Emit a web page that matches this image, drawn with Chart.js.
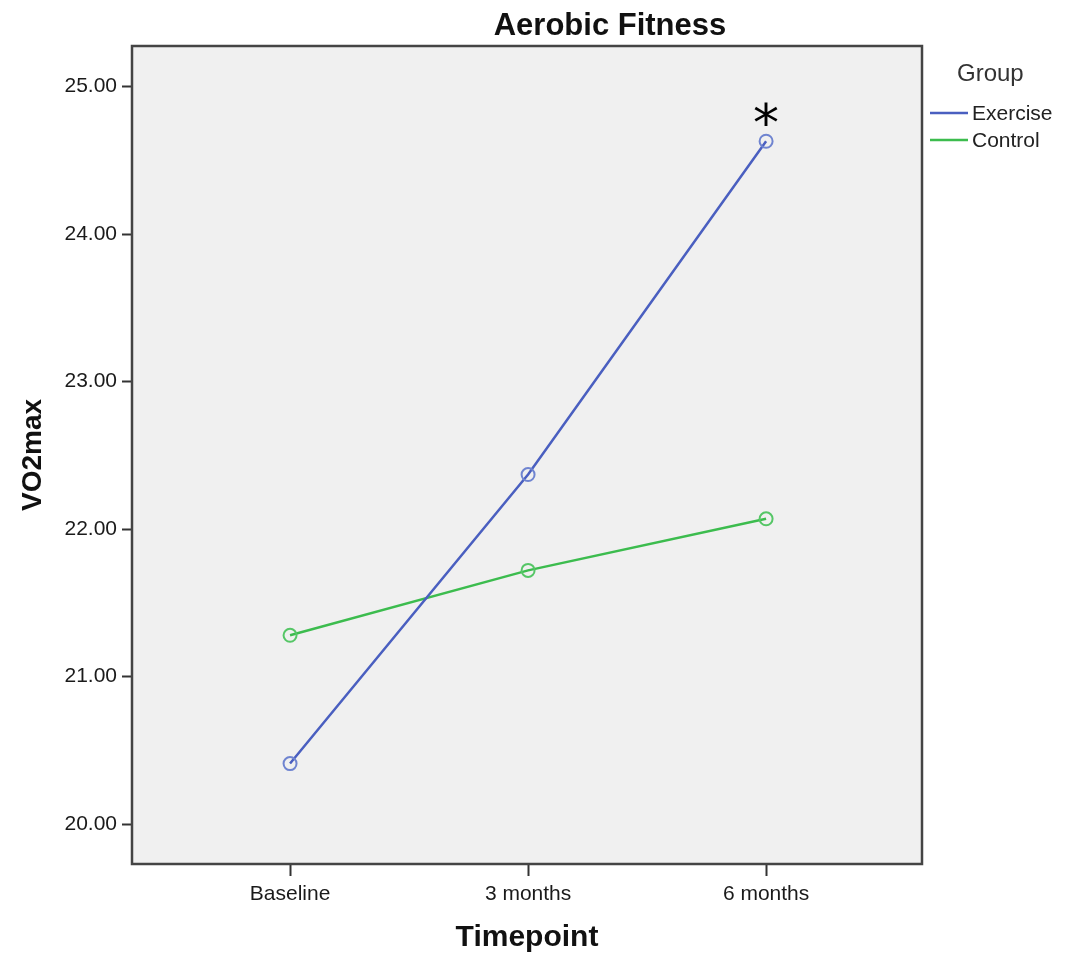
<!DOCTYPE html>
<html>
<head>
<meta charset="utf-8">
<title>Aerobic Fitness</title>
<script src="https://cdn.jsdelivr.net/npm/chart.js@4.4.1/dist/chart.umd.min.js"></script>
<style>
  html, body { margin: 0; padding: 0; background: #ffffff; }
  #wrap { width: 1076px; height: 956px; }
</style>
</head>
<body>
<div id="wrap"><canvas id="chart" width="1076" height="956"></canvas></div>
<script>
// Mean VO2max per timepoint for each group
const timepoints = ['Baseline', '3 months', '6 months'];
const exerciseVO2 = [20.41, 22.37, 24.63];
const controlVO2 = [21.28, 21.72, 22.07];
const yTickValues = [20, 21, 22, 23, 24, 25];
const groupNames = ['Exercise', 'Control'];
const groupColors = ['#4a5fc0', '#3cbc4e'];
const markerColors = ['#6f84d0', '#55c666'];
// Marker flagged as significant: series index and point index
const flagged = { series: 0, point: 2, text: '*' };

const FONT = '"Liberation Sans", Arial, sans-serif';

const toPoints = vals => vals.map((v, i) => ({ x: i, y: v }));

// Plot frame, chart title, legend and significance mark
const decorations = {
  id: 'decorations',
  beforeDatasetsDraw(chart) {
    const { ctx, chartArea: a } = chart;
    ctx.save();
    ctx.fillStyle = '#f0f0f0';
    ctx.fillRect(a.left, a.top, a.right - a.left, a.bottom - a.top);
    ctx.strokeStyle = '#444';
    ctx.lineWidth = 2.5;
    ctx.strokeRect(a.left, a.top, a.right - a.left, a.bottom - a.top);
    ctx.restore();
  },
  afterDraw(chart) {
    const { ctx, chartArea: a, scales } = chart;
    ctx.save();
    // title
    ctx.fillStyle = '#111';
    ctx.font = 'bold 31px ' + FONT;
    ctx.textAlign = 'center';
    ctx.textBaseline = 'alphabetic';
    ctx.fillText('Aerobic Fitness', 610, 35);

    // legend
    const lx = a.right + 8;
    ctx.textAlign = 'left';
    ctx.fillStyle = '#333';
    ctx.font = '24px ' + FONT;
    ctx.fillText('Group', lx + 27, 81);
    ctx.font = '21px ' + FONT;
    ctx.textBaseline = 'middle';
    groupNames.forEach((name, i) => {
      const y = 113 + i * 27;
      ctx.strokeStyle = groupColors[i];
      ctx.lineWidth = 2.5;
      ctx.beginPath();
      ctx.moveTo(lx, y);
      ctx.lineTo(lx + 38, y);
      ctx.stroke();
      ctx.fillStyle = '#222';
      ctx.fillText(name, lx + 42, y + 1);
    });

    // significance mark above the flagged point
    const px = scales.x.getPixelForValue(flagged.point);
    const py = scales.y.getPixelForValue([exerciseVO2, controlVO2][flagged.series][flagged.point]);
    ctx.font = '52px "DejaVu Sans", sans-serif';
    ctx.fillStyle = '#000';
    ctx.textAlign = 'center';
    ctx.textBaseline = 'alphabetic';
    const m = ctx.measureText(flagged.text);
    const cy = py - 27;
    const base = cy - (m.actualBoundingBoxDescent - m.actualBoundingBoxAscent) / 2;
    ctx.fillText(flagged.text, px, base);
    ctx.restore();
  }
};

new Chart(document.getElementById('chart'), {
  type: 'line',
  data: {
    datasets: [
      {
        label: groupNames[0],
        data: toPoints(exerciseVO2),
        borderColor: groupColors[0],
        borderWidth: 2.5,
        pointRadius: 6.5,
        pointBorderWidth: 2,
        pointBorderColor: markerColors[0],
        pointBackgroundColor: 'rgba(0,0,0,0)',
        tension: 0
      },
      {
        label: groupNames[1],
        data: toPoints(controlVO2),
        borderColor: groupColors[1],
        borderWidth: 2.5,
        pointRadius: 6.5,
        pointBorderWidth: 2,
        pointBorderColor: markerColors[1],
        pointBackgroundColor: 'rgba(0,0,0,0)',
        tension: 0
      }
    ]
  },
  options: {
    responsive: false,
    animation: false,
    devicePixelRatio: 1,
    layout: { padding: { top: 46, right: 154, left: 0, bottom: 0 } },
    plugins: {
      legend: { display: false },
      tooltip: { enabled: false },
      title: { display: false }
    },
    scales: {
      x: {
        type: 'linear',
        min: -0.664,
        max: 2.655,
        afterFit(s) { s.height = 92; },
        afterBuildTicks(s) { s.ticks = timepoints.map((_, i) => ({ value: i })); },
        grid: { drawOnChartArea: false, drawTicks: true, tickLength: 12, tickWidth: 2, tickColor: '#333' },
        border: { display: false },
        ticks: {
          padding: 6,
          color: '#1a1a1a',
          font: { family: FONT, size: 21 },
          maxRotation: 0,
          autoSkip: false,
          callback: v => timepoints[v]
        },
        title: {
          display: true,
          text: 'Timepoint',
          color: '#111',
          font: { family: FONT, size: 30, weight: 'bold' },
          padding: { top: 0, bottom: 0 }
        }
      },
      y: {
        type: 'linear',
        min: 19.729,
        max: 25.276,
        afterFit(s) { s.width = 132; },
        afterBuildTicks(s) { s.ticks = yTickValues.map(v => ({ value: v })); },
        grid: { drawOnChartArea: false, drawTicks: true, tickLength: 10, tickWidth: 2, tickColor: '#333' },
        border: { display: false },
        ticks: {
          padding: 5,
          color: '#1a1a1a',
          font: { family: FONT, size: 21 },
          autoSkip: false,
          callback: v => Number(v).toFixed(2)
        },
        title: {
          display: true,
          text: 'VO2max',
          color: '#111',
          font: { family: FONT, size: 28, weight: 'bold' },
          padding: { top: 16, bottom: 0 }
        }
      }
    }
  },
  plugins: [decorations]
});
</script>
</body>
</html>
